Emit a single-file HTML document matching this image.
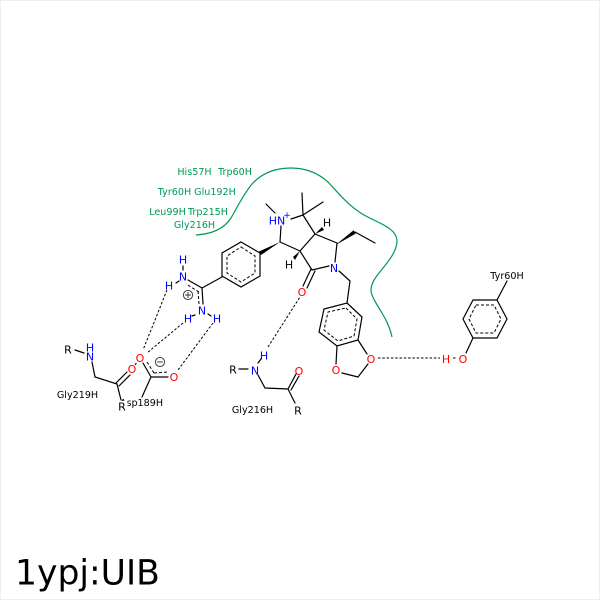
<!DOCTYPE html>
<html>
<head>
<meta charset="utf-8">
<style>
html,body{margin:0;padding:0;background:#fff;width:600px;height:600px;overflow:hidden}
svg{display:block}
text{font-family:"DejaVu Sans",sans-serif;text-anchor:middle;dominant-baseline:central}
.b{stroke:#000;stroke-width:1.2;fill:none;stroke-linecap:round}
.d{stroke:#000;stroke-width:1;fill:none;stroke-dasharray:3 2}
.h{stroke:#000;stroke-width:1;fill:none;stroke-dasharray:2.5 1.8}
.g{font-size:9.6px;fill:#009955}
.k{font-size:9.6px;fill:#000}
.n{font-size:11px;fill:#00f}
.o{font-size:11px;fill:#f00}
.c{font-size:11px;fill:#000}
</style>
</head>
<body>
<svg width="600" height="600" viewBox="0 0 600 600" xmlns="http://www.w3.org/2000/svg">
<rect x="0.5" y="0.5" width="599" height="599" fill="#fff" stroke="#eee"/>

<path d="M196,235 C212,234 224,229 231,218 C238,206 243,195 252,184 C262,173 276,168 291,168 C306,168 318,173 328,182 C340,195 350,207 364,215 C378,223 397,228 397,241 C397,254 383,267 376,277 C371,284 370,290 372,295 C376,306 388,318 392,337" fill="none" stroke="#009955" stroke-width="1.2"/>

<g class="g">
<text x="194.5" y="172.5">His57H</text>
<text x="235" y="172.5">Trp60H</text>
<text x="174.5" y="192.5">Tyr60H</text>
<text x="215" y="192.5">Glu192H</text>
<text x="167.5" y="212.5">Leu99H</text>
<text x="208" y="212.5">Trp215H</text>
<text x="194.5" y="225.5">Gly216H</text>
</g>

<!-- phenyl ring -->
<path class="b" d="M241,242 L260,253 L260,276 L241,287 L222,276 L222,253 Z"/>
<path class="d" d="M241,247 L255,256 L255,273 L241,282 L227,273 L227,256 Z"/>
<polygon points="280,242 259,251.5 261,255" fill="#000"/>
<path class="b" d="M222,277 L202,288"/>

<!-- guanidinium -->
<path class="b" d="M202,288 L188,280 M202,288 L203,304 M183,266 L183,270 M176,283 L179,281 M195,315 L192,316 M208,314 L211,316"/>
<path class="d" d="M199,292 L186,284 M198,291 L199,304"/>
<circle cx="188" cy="295" r="4.6" fill="#fff" stroke="#333" stroke-width="0.9"/>
<path d="M185,295 H191 M188,292 V298" stroke="#333" stroke-width="0.9"/>
<text class="n" x="183" y="260">H</text>
<text class="n" x="183" y="277">N</text>
<text class="n" x="169" y="286">H</text>
<text class="n" x="202" y="311">N</text>
<text class="n" x="188" y="319">H</text>
<text class="n" x="217" y="319">H</text>

<!-- bicyclic core -->
<path class="b" d="M281,226 L280,242 M280,242 L300,251 M300,251 L315,234 M315,234 L303,215 M303,215 L302,193 M303,215 L323,202 M303,215 L291,219 M266,204 L275,213 M315,234 L337,243 M355,232 L375,243 M337,243 L335,262 M300,251 L312,270 M312,270 L329,266 M339,271 L350,281 M350,281 L347,303"/>
<path class="b" d="M311,269 L303,286 M315,271 L307,288"/>
<polygon points="337,244 353.5,230.5 355.5,233.5" fill="#000" stroke="#000" stroke-width="0.4"/>
<polygon points="315,234 322,227 324,230" fill="#000"/>
<polygon points="300,251 293,257 295,260" fill="#000"/>
<text class="n" x="277" y="221">HN</text>
<text class="n" x="287" y="216" style="font-size:9px">+</text>
<text class="c" x="327" y="223">H</text>
<text class="c" x="289" y="265">H</text>
<text class="n" x="334" y="268.5">N</text>
<text class="o" x="302" y="292.5">O</text>

<!-- benzodioxole -->
<path class="b" d="M347,303 L362,317 L358,340 L337,346 L319,332 L324,309 Z"/>
<path class="d" d="M346,308 L357,319 L354,336 L338,341 L324,330 L328,312 Z"/>
<path class="b" d="M358,340 L367,354 M337,346 L336,364 M342,373 L358,377 M358,377 L368,364"/>
<text class="o" x="371" y="359.5">O</text>
<text class="o" x="336" y="370.5">O</text>

<!-- Tyr60H -->
<path class="b" d="M473,300 L497,300 L507,319 L497,338 L473,338 L463,319 Z"/>
<path class="d" d="M476,305 L494,305 L501,319 L494,333 L476,333 L469,319 Z"/>
<path class="b" d="M497,300 L507,281 M473,338 L466,353"/>
<text class="k" x="507" y="276.5">Tyr60H</text>
<text class="o" x="463" y="359.5">O</text>
<text class="o" x="446" y="359.5">H</text>
<path class="h" d="M378,358 L440,358 M453,358 L457,358"/>

<!-- Gly216H -->
<path class="b" d="M239,369 L248,369 M258,375 L265,388 L288,389 L295,403 M258,363 L261,359 M288,389 L296,374 M291,390 L299,376"/>
<text class="c" x="233" y="370">R</text>
<text class="n" x="255" y="371">N</text>
<text class="n" x="264" y="356">H</text>
<text class="o" x="299" y="371.5">O</text>
<text class="c" x="298" y="411">R</text>
<text class="k" x="252.5" y="410.5">Gly216H</text>
<path class="h" d="M268,347 L300,297"/>

<!-- Gly219H -->
<path class="b" d="M75,350 L84,353 M92,362 L95,377 L117,384 L121,400 M116,383 L127,372 M119,386 L130,375"/>
<text class="c" x="68" y="350">R</text>
<text class="n" x="90" y="348">H</text>
<text class="n" x="90" y="357">N</text>
<text class="o" x="132" y="369.5">O</text>
<text class="k" x="77.5" y="395.5">Gly219H</text>

<!-- Asp189H -->
<path class="b" d="M151,377 L168,377 M151,377 L142,397 M151,377 L143,363"/>
<path class="d" d="M147,362 L154,373 M154,373 L169,372"/>
<text class="k" x="141.5" y="403.5">Asp189H</text>
<rect x="115" y="401" width="12.5" height="12" fill="#fff"/>
<text class="c" x="122" y="407">R</text>
<text class="o" x="140" y="358.5">O</text>
<text class="o" x="174" y="377.5">O</text>
<circle cx="160" cy="362" r="4.6" fill="#fff" stroke="#333" stroke-width="0.9"/>
<path d="M157,362 H163" stroke="#333" stroke-width="0.9"/>

<path class="h" d="M167,290 L143,350 M183,323 L147,353 M213,323 L178,370 M135,365 L137,362"/>

<text x="15" y="573.5" style="font-size:34.6px;text-anchor:start;fill:#000">1ypj:UIB</text>
</svg>
</body>
</html>
